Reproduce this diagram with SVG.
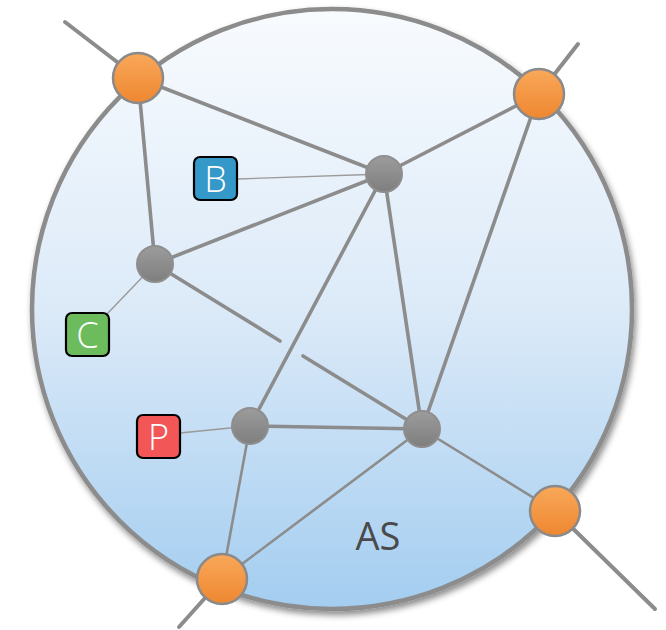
<svg xmlns="http://www.w3.org/2000/svg" width="666" height="630" viewBox="0 0 666 630">
<defs>
  <linearGradient id="asFill" x1="0" y1="0" x2="0" y2="1">
    <stop offset="0" stop-color="#f8fbfe"/>
    <stop offset="0.5" stop-color="#dceaf8"/>
    <stop offset="1" stop-color="#a3cdf0"/>
  </linearGradient>
  <linearGradient id="orangeFill" x1="0" y1="0" x2="0" y2="1">
    <stop offset="0" stop-color="#f9a85a"/>
    <stop offset="1" stop-color="#ee8730"/>
  </linearGradient>
  <linearGradient id="grayFill" x1="0" y1="0" x2="0" y2="1">
    <stop offset="0" stop-color="#9c9c9c"/>
    <stop offset="1" stop-color="#7e7e7e"/>
  </linearGradient>
  <filter id="shadow" x="-10%" y="-10%" width="120%" height="120%">
    <feDropShadow dx="2" dy="4" stdDeviation="3" flood-color="#000" flood-opacity="0.45"/>
  </filter>
  <style>
    .edge{stroke:#8c8c8c;stroke-width:3.6;stroke-linecap:round;fill:none}
    .thin{stroke:#8c8c8c;stroke-width:2.6;stroke-linecap:round;fill:none}
    .ext{stroke:#8c8c8c;stroke-width:4;stroke-linecap:round;fill:none}
    .lbl-link{stroke:#9a9a9a;stroke-width:1.4;fill:none}
    .border{stroke:#8c8c8c;stroke-width:4.5;fill:url(#asFill)}
    .router{fill:url(#orangeFill);stroke:#8a8a8a;stroke-width:2.5}
    .node{fill:url(#grayFill);stroke:#8e8e8e;stroke-width:2}
    .tag{stroke:#000;stroke-width:2.2}
    .tagtxt{font-family:"Open Sans","DejaVu Sans",sans-serif;font-weight:300;font-size:36px;fill:#fff;text-anchor:middle}
    .as{font-family:"Open Sans","DejaVu Sans",sans-serif;font-size:38px;fill:#4a4a4a;text-anchor:middle}
  </style>
</defs>

<g id="as-area">
  <circle class="border" cx="332" cy="309" r="300" filter="url(#shadow)"/>
  <text class="as" x="378" y="550">AS</text>
</g>

<g id="connectors">
  <line class="ext" x1="138" y1="78" x2="65" y2="22"/>
  <line class="ext" x1="539" y1="94" x2="578" y2="44"/>
  <line class="ext" x1="555" y1="511" x2="655" y2="609"/>
  <line class="ext" x1="222" y1="579" x2="179" y2="627"/>

  <line class="edge" x1="138" y1="78" x2="384" y2="174"/>
  <line class="edge" x1="138" y1="78" x2="155" y2="264"/>
  <line class="edge" x1="539" y1="94" x2="384" y2="174"/>
  <line class="edge" x1="539" y1="94" x2="422" y2="429"/>
  <line class="edge" x1="155" y1="264" x2="384" y2="174"/>
  <line class="edge" x1="250" y1="426" x2="384" y2="174"/>
  <line class="edge" x1="422" y1="429" x2="384" y2="174"/>
  <line class="edge" x1="155" y1="264" x2="280" y2="341"/>
  <line class="edge" x1="303" y1="356" x2="422" y2="429"/>
  <line class="edge" x1="250" y1="426" x2="422" y2="429"/>
  <line class="thin" x1="250" y1="426" x2="222" y2="579"/>
  <line class="thin" x1="422" y1="429" x2="222" y2="579"/>
  <line class="thin" x1="422" y1="429" x2="555" y2="511"/>

  <line class="lbl-link" x1="237" y1="179" x2="384" y2="174"/>
  <line class="lbl-link" x1="107" y1="314" x2="155" y2="264"/>
  <line class="lbl-link" x1="180" y1="433" x2="250" y2="426"/>
</g>

<g id="router-tl"><circle class="router" cx="138" cy="78" r="25"/></g>
<g id="router-tr"><circle class="router" cx="539" cy="94" r="25"/></g>
<g id="router-br"><circle class="router" cx="555" cy="511" r="25"/></g>
<g id="router-bl"><circle class="router" cx="222" cy="579" r="25"/></g>

<g id="node-1"><circle class="node" cx="384" cy="174" r="18"/></g>
<g id="node-2"><circle class="node" cx="155" cy="264" r="18"/></g>
<g id="node-3"><circle class="node" cx="250" cy="426" r="18"/></g>
<g id="node-4"><circle class="node" cx="422" cy="429" r="18"/></g>

<g id="tag-B">
  <rect class="tag" x="194" y="157" width="43" height="43" rx="6" fill="#3498c9"/>
  <text class="tagtxt" x="215.5" y="192">B</text>
</g>
<g id="tag-C">
  <rect class="tag" x="66" y="313" width="43" height="43" rx="6" fill="#6cbc5e"/>
  <text class="tagtxt" x="87.5" y="348">C</text>
</g>
<g id="tag-P">
  <rect class="tag" x="137" y="415" width="43" height="43" rx="6" fill="#f25656"/>
  <text class="tagtxt" x="158.5" y="450">P</text>
</g>
</svg>
